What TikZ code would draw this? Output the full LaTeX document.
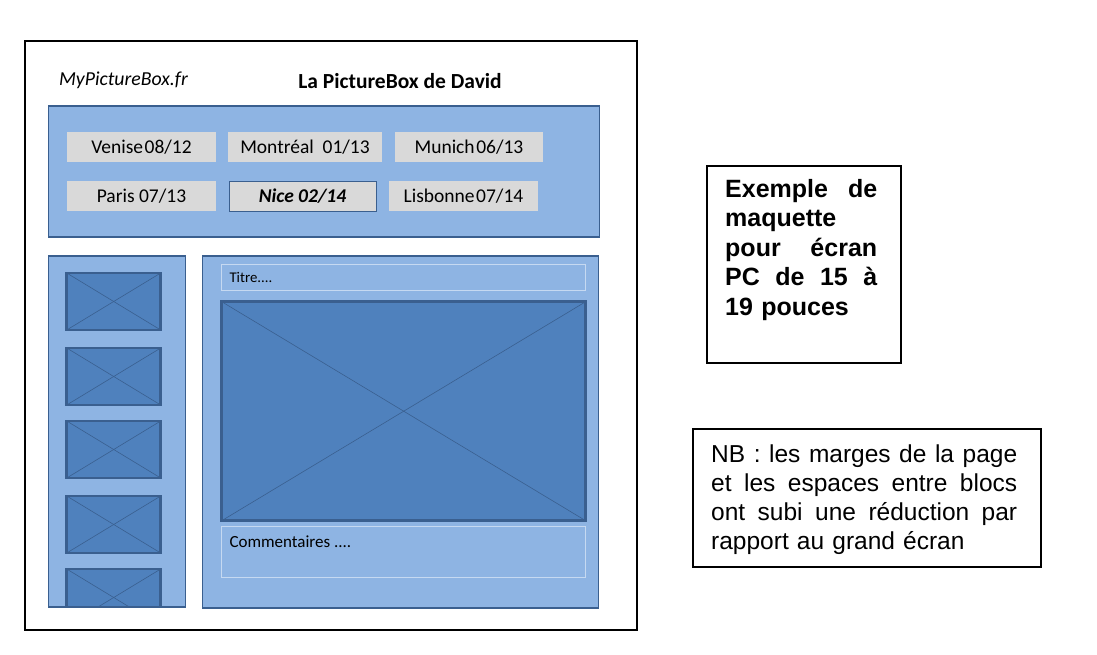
\documentclass[tikz,border=0pt]{standalone}
\usepackage{fontspec}
\setmainfont{Carlito}
\newfontfamily\arialfont{Liberation Sans}
\definecolor{panelfill}{HTML}{8EB4E3}
\definecolor{paneldraw}{HTML}{3A5F8F}
\definecolor{imgfill}{HTML}{4F81BD}
\definecolor{btnfill}{HTML}{D9D9D9}
\definecolor{softline}{HTML}{C6D9F1}
\newcommand{\jline}[2]{\leavevmode\hbox to #1{#2}}
\tikzset{
  frame/.style={draw=black, line width=2pt, fill=white, inner sep=0pt, outer sep=0pt, anchor=north west},
  panel/.style={draw=paneldraw, line width=1.8pt, fill=panelfill, inner sep=0pt, outer sep=0pt, anchor=north west},
  thumb/.style={draw=paneldraw, line width=2.6pt, fill=imgfill, inner sep=0pt, outer sep=0pt, anchor=north west},
  crossline/.style={draw=paneldraw, line width=0.6pt},
  btn/.style={fill=btnfill, inner sep=0pt, outer sep=0pt, anchor=north west, minimum height=30pt, font=\fontsize{19.5}{22}\selectfont},
  softbox/.style={draw=softline, line width=1pt, inner sep=0pt, outer sep=0pt, anchor=north west},
  note/.style={draw=black, line width=1.8pt, inner sep=0pt, outer sep=0pt, anchor=north west},
}
\begin{document}
\begin{tikzpicture}[x=1pt,y=-1pt]
\useasboundingbox (0,0) rectangle (1097,655);
% outer frame
\node[frame, minimum width=612pt, minimum height=589pt] (page) at (25,41) {};
\node[anchor=west, font=\fontsize{19.8}{22}\selectfont\itshape] (site) at (55.5,80) {MyPictureBox.fr};
\node[font=\fontsize{21.5}{24}\selectfont\bfseries] (title) at (400,81) {La PictureBox de David};
% top panel
\node[panel, minimum width=551pt, minimum height=131pt] (top) at (48.5,106) {};
\node[btn, minimum width=149pt] (b1) at (67,132) {Venise\hspace{0.08em}08/12};
\node[btn, minimum width=154pt] (b2) at (228,132) {Montréal\ \ 01/13};
\node[btn, minimum width=148pt] (b3) at (395,132) {Munich\hspace{0.08em}06/13};
\node[btn, minimum width=149pt] (b4) at (67,181) {Paris 07/13};
\node[btn, minimum width=147pt, draw=paneldraw, line width=0.8pt] (b5) at (229,181) {\bfseries\itshape Nice 02/14};
\node[btn, minimum width=149pt] (b6) at (389,181) {Lisbonne\hspace{0.08em}07/14};
% left column
\node[panel, minimum width=137pt, minimum height=351pt] (left) at (48.5,256) {};
\begin{scope}
\clip (49.5,257) rectangle (184.5,606.5);
\foreach \i/\y in {1/273,2/348,3/421,4/496,5/569}{
  \node[thumb, minimum width=94pt, minimum height=57pt] (t\i) at (66.7,\y) {};
  \draw[crossline] (t\i.north west) -- (t\i.south east);
  \draw[crossline] (t\i.south west) -- (t\i.north east);
}
\end{scope}
\draw[paneldraw, line width=1.8pt] (left.south west) -- (left.south east);
% right column
\node[panel, minimum width=396pt, minimum height=352pt] (right) at (202.5,256) {};
\node[softbox, minimum width=364pt, minimum height=26pt] (titre) at (221.5,264.5) {};
\node[anchor=west, font=\fontsize{14.8}{17}\selectfont] (titretxt) at (226,277) {Titre....};
\node[thumb, minimum width=364pt, minimum height=219pt] (main) at (221.7,301.7) {};
\draw[crossline] (main.north west) -- (main.south east);
\draw[crossline] (main.south west) -- (main.north east);
\node[softbox, minimum width=364pt, minimum height=51pt] (comm) at (221.5,526.3) {};
\node[anchor=west, font=\fontsize{17}{20}\selectfont] (commtxt) at (226,542) {Commentaires ....};
% note 1
\node[note, minimum width=194pt, minimum height=197pt] (n1) at (707,166) {};
\node[anchor=base west, inner sep=0pt, text width=152pt, align=left,
      font=\arialfont\bfseries\fontsize{25}{29.6}\selectfont] (n1txt) at (725,197)
  {\jline{152pt}{Exemple\hfill de}\\
   maquette\\
   \jline{152pt}{pour\hfill écran}\\
   \jline{152pt}{PC\hfill de\hfill 15\hfill à}\\
   19 pouces};
% note 2
\node[note, minimum width=348pt, minimum height=138pt] (n2) at (693,429) {};
\node[anchor=base west, inner sep=0pt, text width=306pt, align=left,
      font=\arialfont\fontsize{24.5}{29}\selectfont] (n2txt) at (711,462)
  {\jline{306pt}{NB\hfill :\hfill les\hfill marges\hfill de\hfill la\hfill page}\\
   \jline{306pt}{et\hfill les\hfill espaces\hfill entre\hfill blocs}\\
   \jline{306pt}{ont\hfill subi\hfill une\hfill réduction\hfill par}\\
   rapport au grand écran};
\end{tikzpicture}
\end{document}
